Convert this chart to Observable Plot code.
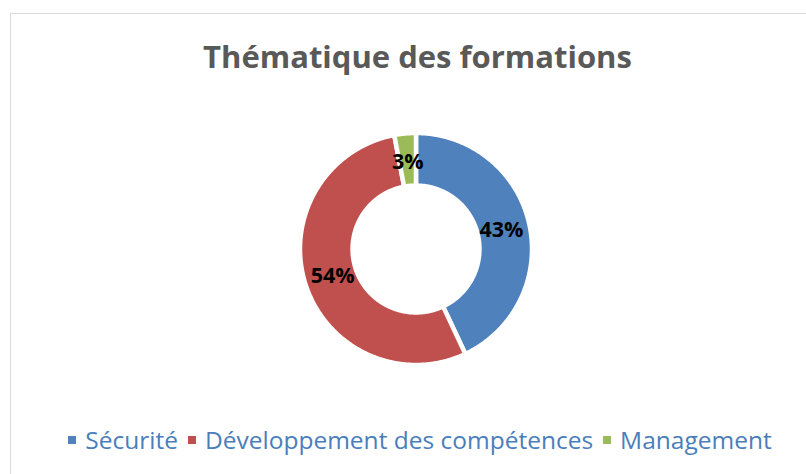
<!DOCTYPE html>
<html><head><meta charset="utf-8">
<script src="https://cdn.jsdelivr.net/npm/d3@7"></script>
<script src="https://cdn.jsdelivr.net/npm/@observablehq/plot@0.6"></script>
<style>
body{margin:0;background:#fff;overflow:hidden;width:806px;height:474px}
#frame{position:absolute;left:10px;top:13px;width:830px;height:480px;border-left:1.5px solid #d9d9d9;border-top:1.5px solid #d9d9d9;box-sizing:border-box}
#title{position:absolute;left:0;top:36px;width:835px;text-align:center;font-family:"Open Sans";font-weight:bold;font-size:31px;color:#595959;line-height:40px;white-space:nowrap}
#chart{position:absolute;left:0;top:110px}
#legend{position:absolute;left:0;top:424px;width:840px;text-align:center;font-family:"Open Sans";font-size:24.5px;color:#4A7EBB;line-height:32px;white-space:nowrap}
#legend .sw{display:inline-block;width:8px;height:8px;margin-right:9px;vertical-align:middle;position:relative;top:-2px}
#legend .it{margin:0 5px}
</style></head>
<body>
<div id="frame"></div>
<div id="title">Thématique des formations</div>
<div id="chart"></div>
<div id="legend"></div>
<script>
const categories = ["Sécurité", "Développement des compétences", "Management"];
const values = [43, 54, 3];
const labels = ["43%", "54%", "3%"];
const colors = ["#4F81BD", "#C0504D", "#9BBB59"];

const total = d3.sum(values);
const inner = 0.547, outer = 1, labelR = 0.755;
const pts = [];
const labs = [];
let acc = 0;
categories.forEach((c, i) => {
  const a0 = acc / total * 2 * Math.PI;
  acc += values[i];
  const a1 = acc / total * 2 * Math.PI;
  const n = Math.max(4, Math.ceil((a1 - a0) / 0.01));
  const poly = [];
  for (let k = 0; k <= n; k++) { const a = a0 + (a1 - a0) * k / n; poly.push({cat: c, x: outer * Math.sin(a), y: outer * Math.cos(a)}); }
  for (let k = n; k >= 0; k--) { const a = a0 + (a1 - a0) * k / n; poly.push({cat: c, x: inner * Math.sin(a), y: inner * Math.cos(a)}); }
  poly.push({...poly[0]});
  pts.push(...poly);
  const am = (a0 + a1) / 2;
  labs.push({cat: c, label: labels[i], x: labelR * Math.sin(am), y: labelR * Math.cos(am)});
});

const chart = Plot.plot({
  width: 806, height: 280,
  marginLeft: 299.5, marginRight: 274.5, marginTop: 22.5, marginBottom: 25.5,
  x: {domain: [-1, 1], axis: null},
  y: {domain: [-1, 1], axis: null},
  color: {domain: categories, range: colors},
  style: {fontFamily: "Open Sans", background: "transparent"},
  marks: [
    ...categories.map((c, i) => Plot.line(pts.filter(d => d.cat === c), {x: "x", y: "y", fill: colors[i], stroke: "white", strokeWidth: 4.5, strokeLinejoin: "round", curve: "linear"})),
    Plot.text(labs, {x: "x", y: "y", text: "label", fontSize: 21.5, fontWeight: "bold", fill: "black"})
  ]
});
document.getElementById("chart").appendChild(chart);

const leg = document.getElementById("legend");
categories.forEach((c, i) => {
  const s = document.createElement("span");
  s.className = "it";
  s.innerHTML = `<span class="sw" style="background:${colors[i]}"></span>${c}`;
  leg.appendChild(s);
});
</script>
</body></html>
